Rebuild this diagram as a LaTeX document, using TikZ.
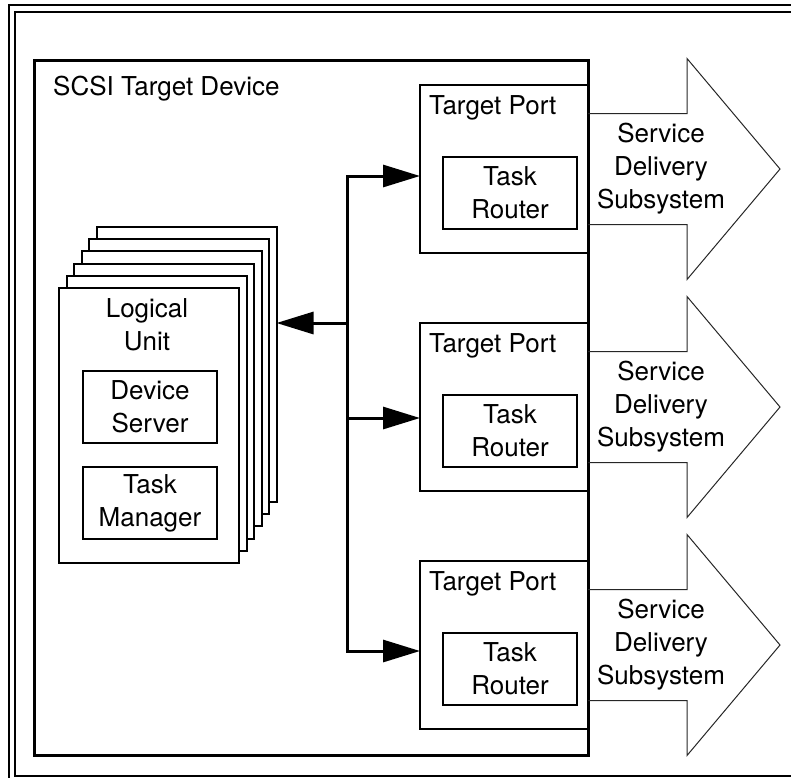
\documentclass[tikz,border=0pt]{standalone}
\usepackage{fontspec}
\setmainfont{TeX Gyre Heros}
\usetikzlibrary{arrows.meta}
\tikzset{
  >={Triangle[length=37pt,width=22pt]},
  lupage/.style={draw,line width=2pt,fill=white,minimum width=180pt,minimum height=275pt,inner sep=0pt,outer sep=0pt},
  portbox/.style={draw,line width=2pt,minimum width=168pt,minimum height=168pt,inner sep=0pt,outer sep=0pt},
  unitbox/.style={draw,line width=2pt,minimum width=134pt,minimum height=72pt,inner sep=0pt,align=center},
  lbl/.style={inner sep=0pt,align=center},
  bus/.style={line width=3pt,line cap=rect},
  sdsarrow/.style={draw=black!85,line width=1pt}
}

\begin{document}
\begin{tikzpicture}[x=1pt,y=-1pt,font=\fontsize{26}{33}\selectfont,line join=miter]
  \useasboundingbox (0,0) rectangle (791,777);
  % frame
  \draw[line width=2pt] (8.7,5.3) rectangle (802,784);
  \draw[line width=2pt] (15,12) rectangle (796,775.5);
  % target device
  \draw[line width=3pt] (34.5,60) rectangle (588,755);
  \node[inner sep=0pt,anchor=base west] (dev) at (53,95) {SCSI Target Device};
  % logical units, back to front
  \node[lupage] (lu6) at (186.5,364.5) {};
  \node[lupage] (lu5) at (179,376.7) {};
  \node[lupage] (lu4) at (171.5,388.9) {};
  \node[lupage] (lu3) at (164,401.1) {};
  \node[lupage] (lu2) at (156.5,413.3) {};
  \node[lupage] (lu1) at (149,425.5) {};
  \node[lbl] (lutext) at (147,325) {Logical\\Unit};
  \node[unitbox] (server) at (150,406.5) {Device\\Server};
  \node[unitbox] (manager) at (150,503) {Task\\Manager};
  % target ports
  \node[portbox] (tp1) at (504,169) {};
  \node[portbox] (tp2) at (504,407) {};
  \node[portbox] (tp3) at (504,645) {};
  \node[inner sep=0pt,anchor=base west] (tpl1) at (429,114) {Target Port};
  \node[inner sep=0pt,anchor=base west] (tpl2) at (429,352) {Target Port};
  \node[inner sep=0pt,anchor=base west] (tpl3) at (429,590) {Target Port};
  \node[unitbox] (tr1) at (510,193) {Task\\Router};
  \node[unitbox] (tr2) at (510,431) {Task\\Router};
  \node[unitbox] (tr3) at (510,669) {Task\\Router};
  % bus
  \coordinate (j0) at (347,323);
  \coordinate (j1) at (347,176);
  \coordinate (j2) at (347,418);
  \coordinate (j3) at (347,651);
  \draw[bus,->] (j3) -- (j1) -- (j1 -| tp1.west);
  \draw[bus,->] (j2) -- (j2 -| tp2.west);
  \draw[bus,->] (j3) -- (j3 -| tp3.west);
  \draw[bus,->] (j0) -- (j0 -| lu6.east);
  % service delivery subsystems
  \draw[sdsarrow,shift={(tp1.east)}] (0,-55.5) -- (99,-55.5) -- (99,-110.5) -- (192,0) -- (99,110.5) -- (99,55.5) -- (0,55.5);
  \draw[sdsarrow,shift={(tp2.east)}] (0,-55.5) -- (99,-55.5) -- (99,-110.5) -- (192,0) -- (99,110.5) -- (99,55.5) -- (0,55.5);
  \draw[sdsarrow,shift={(tp3.east)}] (0,-55.5) -- (99,-55.5) -- (99,-110.5) -- (192,0) -- (99,110.5) -- (99,55.5) -- (0,55.5);
  \node[lbl] (sds1) at (661,169) {Service\\Delivery\\Subsystem};
  \node[lbl] (sds2) at (661,407) {Service\\Delivery\\Subsystem};
  \node[lbl] (sds3) at (661,645) {Service\\Delivery\\Subsystem};
\end{tikzpicture}
\end{document}
